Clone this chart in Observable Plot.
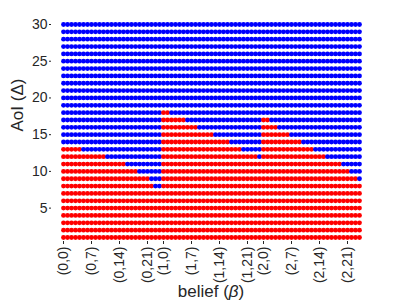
<!DOCTYPE html>
<html><head><meta charset="utf-8">
<script src="https://cdn.jsdelivr.net/npm/d3@7"></script>
<script src="https://cdn.jsdelivr.net/npm/@observablehq/plot@0.6"></script>
<style>html,body{margin:0;padding:0;background:#fff;overflow:hidden} svg{display:block;max-width:none!important}</style>
</head><body><div id="chart"></div>
<script>
// belief state components
const groups = [0, 1, 2];
const bLevels = [0,1,2,3,4,5,6,7,8,9,10,11,12,13,14,15,16,17,18,19,20,21,22,23,24];
// AoI levels (rows)
const aoiLevels = [1,2,3,4,5,6,7,8,9,10,11,12,13,14,15,16,17,18,19,20,21,22,23,24,25,26,27,28,29,30];
// highest AoI that is red, for each belief state (in order (0,0)..(2,24))
const thresholds = [
  13,13,13,13,13, 12,12,12,12,12,12, 11,11,11,11,11, 10,10,10, 9,9,9, 8, 7,7,
  18,18, 17,17,17,17, 16,16,16, 15,15,15,15, 14,14,14,14, 13,13,13, 12,12,12,12, 11,
  17,17, 16,16, 15,15,15, 14,14,14, 13,13,13, 12,12,12, 11,11,11,11, 10,10, 9,9, 8
];
const xTickLabels = ["(0,0)","(0,7)","(0,14)","(0,21)","(1,0)","(1,7)","(1,14)","(1,21)","(2,0)","(2,7)","(2,14)","(2,21)"];
const yTicks = [5, 10, 15, 20, 25, 30];
const classes = ["low", "high"];
const classColors = ["#ff0000", "#0000ff"];

const beliefs = groups.flatMap(g => bLevels.map(b => `(${g},${b})`));
const data = [];
beliefs.forEach((bel, i) => {
  aoiLevels.forEach(a => data.push({belief: bel, aoi: a, cls: a <= thresholds[i] ? classes[0] : classes[1]}));
});

const chart = Plot.plot({
  width: 407, height: 306,
  marginLeft: 51, marginRight: 37, marginTop: 21, marginBottom: 65,
  style: {fontFamily: "'Liberation Sans', Arial, sans-serif", fontSize: "14px", background: "#fff", color: "#262626"},
  x: {type: "point", domain: beliefs, padding: 0, range: [54, 367]},
  y: {domain: [1, 30], range: [237, 24]},
  color: {domain: classes, range: classColors},
  marks: [
    Plot.axisY(yTicks, {tickSize: 2, tickPadding: 2, fontSize: 14, label: null}),
    Plot.axisX(xTickLabels, {tickRotate: -90, tickSize: 3, tickPadding: 2, fontSize: 14, label: null}),
    Plot.dot(data, {x: "belief", y: "aoi", fill: "cls", r: 2.4}),
    Plot.text(["AoI (Δ)"], {frameAnchor: "left", rotate: -90, dx: -34, fontSize: 17, fill: "#262626"}),
    Plot.text(["belief (β)"], {frameAnchor: "bottom", dy: 55, fontSize: 17, fill: "#262626"})
  ]
});
chart.querySelectorAll("text").forEach(t => {
  if (t.textContent === "belief (β)") {
    t.textContent = "belief (";
    const ts = document.createElementNS("http://www.w3.org/2000/svg", "tspan");
    ts.setAttribute("font-style", "italic");
    ts.textContent = "β";
    t.appendChild(ts);
    t.appendChild(document.createTextNode(")"));
  }
});
document.getElementById("chart").appendChild(chart);
</script>
</body></html>
